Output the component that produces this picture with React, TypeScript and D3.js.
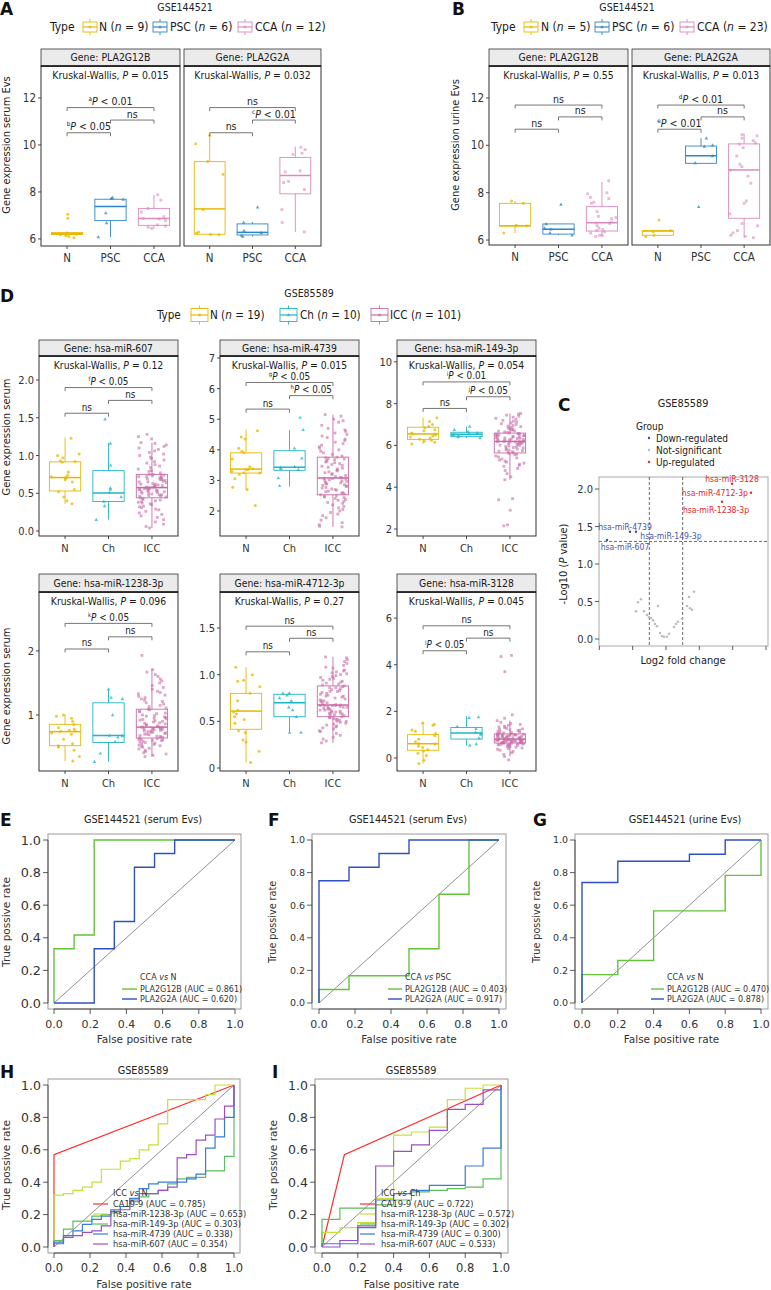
import React from "react";
import * as d3 from "d3";

const FN = "'DejaVu Sans Condensed', 'Liberation Sans', sans-serif";
const FW = "'DejaVu Sans', 'Liberation Sans', sans-serif";

// ---------------- DATA ----------------
const groupsSerum = ["N", "PSC", "CCA"];
const groupsMiR = ["N", "Ch", "ICC"];
const nA = [9, 6, 12];
const nB = [5, 6, 23];
const nD = [19, 10, 101];
const genesA = ["PLA2G12B", "PLA2G2A"];
const kwA = ["0.015", "0.032"];
const kwB = ["0.55", "0.013"];
const genesD = ["hsa-miR-607", "hsa-miR-4739", "hsa-miR-149-3p", "hsa-miR-1238-3p", "hsa-miR-4712-3p", "hsa-miR-3128"];
const kwD = ["0.12", "0.015", "0.054", "0.096", "0.27", "0.045"];
const ticksAB = [6, 8, 10, 12];
const ticksD = [[0, 0.5, 1, 1.5, 2], [2, 3, 4, 5, 6, 7], [2, 4, 6, 8, 10], [1, 2], [0, 0.5, 1, 1.5], [0, 2, 4, 6]];
const tickLabD = [["0.0", "0.5", "1.0", "1.5", "2.0"], ["2", "3", "4", "5", "6", "7"], ["2", "4", "6", "8", "10"], ["1", "2"], ["0", "0.5", "1.0", "1.5"], ["0", "2", "4", "6"]];

// box stats: [lower whisker, q1, median, q3, upper whisker]
const A1_N = [6.05, 6.1, 6.15, 6.18, 6.2, 6.22, 6.25, 6.88, 7.05];
const A1_PSC = [6.08, 6.68, 7.1, 7.68, 7.72, 7.75];
const A1_CCA = [6.45, 6.5, 6.55, 6.6, 6.78, 6.85, 6.88, 6.95, 7.15, 7.3, 7.65, 7.88];
const A1_box = [[6.1, 6.19, 6.22, 6.27, 6.3], [6.08, 6.78, 7.38, 7.69, 7.75], [6.42, 6.58, 6.87, 7.3, 7.88]];
const A2_N = [6.18, 6.2, 6.25, 6.3, 7.25, 8.75, 9.3, 10.05, 10.4];
const A2_PSC = [6.1, 6.15, 6.25, 6.35, 6.7, 7.35];
const A2_CCA = [6.3, 6.7, 7.25, 8.1, 8.4, 8.45, 8.85, 8.9, 9.6, 9.65, 9.8, 9.9];
const A2_box = [[6.18, 6.2, 7.28, 9.29, 10.35], [6.1, 6.17, 6.28, 6.64, 6.72], [6.3, 7.92, 8.7, 9.47, 9.93]];
const B1_N = [6.3, 6.6, 6.62, 7.55, 7.65];
const B1_PSC = [6.2, 6.3, 6.45, 6.5, 6.68, 7.5];
const B1_CCA = [6.15, 6.2, 6.2, 6.3, 6.35, 6.4, 6.45, 6.5, 6.6, 6.7, 6.72, 6.75, 6.9, 6.95, 7.0, 7.2, 7.55, 7.6, 7.75, 7.8, 7.95, 8.0, 8.5];
const B1_box = [[6.3, 6.6, 6.6, 7.55, 7.65], [6.2, 6.25, 6.45, 6.68, 6.68], [6.15, 6.38, 6.73, 7.41, 8.46]];
const B2_N = [6.15, 6.2, 6.35, 6.4, 6.85];
const B2_PSC = [7.4, 9.25, 9.55, 9.95, 10.0, 10.3];
const B2_CCA = [6.1, 6.15, 6.2, 6.3, 6.4, 6.6, 6.7, 7.1, 7.55, 7.65, 8.4, 8.7, 8.95, 9.1, 9.2, 9.55, 9.9, 10.05, 10.1, 10.2, 10.3, 10.4, 10.45];
const B2_box = [[6.15, 6.2, 6.38, 6.39, 6.4], [9.24, 9.24, 9.56, 9.97, 10.3], [6.1, 6.92, 8.96, 10.06, 10.5]];

const D1_N = [0.36, 0.4, 0.45, 0.52, 0.55, 0.65, 0.68, 0.7, 0.71, 0.72, 0.74, 0.78, 0.91, 0.92, 0.93, 0.97, 1.0, 1.02, 1.23];
const D1_Ch = [0.15, 0.33, 0.39, 0.45, 0.51, 0.55, 0.57, 0.87, 1.16, 1.48];
const D1_ICC = [0.04, 0.06, 0.09, 0.12, 0.15, 0.18, 0.2, 0.22, 0.24, 0.26, 0.28, 0.29, 0.31, 0.32, 0.33, 0.35, 0.36, 0.37, 0.38, 0.39, 0.4, 0.41, 0.42, 0.43, 0.44,
  0.45, 0.46, 0.46, 0.47, 0.48, 0.48, 0.49, 0.5, 0.5, 0.51, 0.52, 0.52, 0.53, 0.53, 0.54, 0.54, 0.55, 0.55, 0.56, 0.56, 0.57, 0.57, 0.57, 0.58, 0.58, 0.58,
  0.59, 0.6, 0.6, 0.61, 0.62, 0.62, 0.63, 0.64, 0.65, 0.65, 0.66, 0.67, 0.68, 0.68, 0.69, 0.7, 0.7, 0.71, 0.72, 0.72, 0.73, 0.74, 0.74, 0.75, 0.75,
  0.77, 0.79, 0.8, 0.82, 0.84, 0.86, 0.88, 0.9, 0.92, 0.94, 0.96, 0.98, 1.0, 1.02, 1.04, 1.06, 1.08, 1.1, 1.12, 1.14, 1.16, 1.17, 1.22, 1.25, 1.28];
const D1_box = [[0.36, 0.53, 0.708, 0.916, 1.24], [0.15, 0.39, 0.505, 0.8, 1.17], [0.04, 0.44, 0.575, 0.75, 1.17]];
const D2_N = [2.18, 2.7, 2.78, 3.05, 3.2, 3.24, 3.25, 3.3, 3.35, 3.36, 3.38, 3.45, 3.7, 3.9, 3.95, 4.05, 4.35, 4.42, 4.62];
const D2_Ch = [2.82, 3.08, 3.35, 3.38, 3.42, 3.45, 3.72, 4.05, 4.65, 5.05];
const D2_ICC = [1.48, 1.5, 1.55, 1.62, 1.7, 1.78, 1.85, 1.9, 1.95, 2.0, 2.05, 2.1, 2.15, 2.2, 2.25, 2.28, 2.32, 2.35, 2.38, 2.41, 2.44, 2.46, 2.48, 2.5, 2.53,
  2.56, 2.58, 2.6, 2.63, 2.65, 2.68, 2.7, 2.72, 2.75, 2.77, 2.8, 2.82, 2.84, 2.86, 2.88, 2.9, 2.92, 2.94, 2.96, 2.98, 3.0, 3.02, 3.04, 3.06, 3.07, 3.08,
  3.1, 3.13, 3.16, 3.19, 3.22, 3.25, 3.28, 3.31, 3.34, 3.37, 3.4, 3.43, 3.46, 3.49, 3.52, 3.55, 3.58, 3.6, 3.63, 3.65, 3.68, 3.7, 3.72, 3.74, 3.76,
  3.8, 3.85, 3.9, 3.95, 4.0, 4.05, 4.1, 4.15, 4.2, 4.25, 4.3, 4.35, 4.4, 4.45, 4.5, 4.55, 4.6, 4.65, 4.7, 4.8, 4.9, 4.95, 5.0, 5.1, 5.15];
const D2_box = [[2.7, 3.24, 3.37, 3.9, 4.66], [2.8, 3.33, 3.43, 3.97, 4.64], [1.48, 2.53, 3.08, 3.76, 5.15]];
const D3_N = [6.07, 6.15, 6.2, 6.25, 6.3, 6.35, 6.4, 6.45, 6.5, 6.55, 6.55, 6.6, 6.7, 6.75, 6.85, 6.9, 7.0, 7.15, 7.33];
const D3_Ch = [6.35, 6.4, 6.45, 6.5, 6.52, 6.55, 6.6, 6.65, 6.75, 6.9];
const D3_ICC = [2.15, 2.2, 2.9, 3.4, 3.45, 4.36, 4.5, 4.65, 4.8, 4.9, 5.0, 5.05, 5.1, 5.15, 5.2, 5.25, 5.3, 5.35, 5.4, 5.45, 5.5, 5.55, 5.58, 5.61, 5.64,
  5.67, 5.7, 5.72, 5.75, 5.78, 5.8, 5.83, 5.85, 5.88, 5.9, 5.92, 5.95, 5.97, 6.0, 6.02, 6.04, 6.06, 6.08, 6.1, 6.12, 6.14, 6.15, 6.16, 6.17, 6.18, 6.19,
  6.2, 6.22, 6.24, 6.25, 6.27, 6.28, 6.3, 6.32, 6.33, 6.35, 6.36, 6.38, 6.4, 6.41, 6.43, 6.44, 6.46, 6.48, 6.49, 6.51, 6.53, 6.54, 6.56, 6.57, 6.59,
  6.62, 6.65, 6.68, 6.7, 6.73, 6.76, 6.8, 6.83, 6.86, 6.9, 6.93, 6.96, 7.0, 7.04, 7.08, 7.12, 7.16, 7.2, 7.25, 7.3, 7.35, 7.4, 7.45, 7.5, 7.53];
const D3_box = [[6.07, 6.29, 6.55, 6.87, 7.33], [6.35, 6.42, 6.53, 6.63, 6.9], [4.36, 5.64, 6.19, 6.59, 7.53]];
const D4_N = [0.28, 0.35, 0.45, 0.5, 0.52, 0.55, 0.62, 0.7, 0.72, 0.74, 0.75, 0.76, 0.78, 0.8, 0.85, 0.9, 0.95, 0.98, 1.0];
const D4_Ch = [0.27, 0.4, 0.58, 0.65, 0.67, 0.68, 1.0, 1.25, 1.27, 1.4];
const D4_ICC = [0.35, 0.37, 0.39, 0.41, 0.43, 0.45, 0.47, 0.48, 0.5, 0.51, 0.52, 0.53, 0.54, 0.55, 0.56, 0.57, 0.58, 0.59, 0.6, 0.6, 0.61, 0.62, 0.62, 0.63, 0.64,
  0.65, 0.66, 0.66, 0.67, 0.68, 0.69, 0.7, 0.7, 0.71, 0.72, 0.73, 0.73, 0.74, 0.75, 0.75, 0.76, 0.77, 0.77, 0.78, 0.78, 0.79, 0.79, 0.8, 0.8, 0.81, 0.81,
  0.82, 0.83, 0.84, 0.85, 0.86, 0.87, 0.88, 0.89, 0.9, 0.91, 0.92, 0.93, 0.94, 0.95, 0.96, 0.97, 0.98, 0.99, 1.0, 1.02, 1.03, 1.05, 1.06, 1.08, 1.09,
  1.11, 1.13, 1.15, 1.17, 1.19, 1.21, 1.23, 1.25, 1.27, 1.29, 1.31, 1.33, 1.35, 1.37, 1.4, 1.43, 1.46, 1.5, 1.53, 1.56, 1.6, 1.63, 1.67, 1.71, 1.93];
const D4_box = [[0.28, 0.52, 0.74, 0.854, 1.01], [0.27, 0.57, 0.68, 1.19, 1.4], [0.35, 0.64, 0.81, 1.09, 1.71]];
const D5_N = [0.06, 0.18, 0.28, 0.3, 0.38, 0.4, 0.48, 0.52, 0.55, 0.58, 0.6, 0.62, 0.72, 0.8, 0.87, 0.93, 0.94, 1.0, 1.08];
const D5_Ch = [0.38, 0.38, 0.55, 0.62, 0.65, 0.72, 0.75, 0.78, 0.8, 0.8];
const D5_ICC = [0.27, 0.29, 0.31, 0.33, 0.35, 0.37, 0.39, 0.4, 0.42, 0.43, 0.44, 0.45, 0.46, 0.47, 0.48, 0.49, 0.5, 0.5, 0.51, 0.52, 0.52, 0.53, 0.54, 0.54, 0.55,
  0.56, 0.56, 0.57, 0.58, 0.58, 0.59, 0.59, 0.6, 0.6, 0.61, 0.61, 0.62, 0.62, 0.63, 0.63, 0.64, 0.64, 0.65, 0.65, 0.66, 0.66, 0.67, 0.67, 0.67, 0.67, 0.675,
  0.68, 0.69, 0.7, 0.71, 0.72, 0.72, 0.73, 0.74, 0.75, 0.76, 0.77, 0.77, 0.78, 0.79, 0.8, 0.81, 0.82, 0.82, 0.83, 0.84, 0.85, 0.86, 0.86, 0.87, 0.88,
  0.89, 0.9, 0.91, 0.92, 0.93, 0.94, 0.95, 0.96, 0.97, 0.98, 0.99, 1.0, 1.01, 1.02, 1.03, 1.04, 1.05, 1.07, 1.08, 1.1, 1.12, 1.14, 1.16, 1.18, 1.19];
const D5_box = [[0.06, 0.415, 0.61, 0.8, 1.08], [0.38, 0.55, 0.7, 0.79, 0.8], [0.27, 0.55, 0.675, 0.88, 1.19]];
const D6_N = [-0.24, -0.1, 0.1, 0.2, 0.3, 0.35, 0.45, 0.5, 0.6, 0.62, 0.7, 0.8, 0.95, 1.05, 1.15, 1.2, 1.4, 1.45, 1.5];
const D6_Ch = [0.53, 0.6, 0.85, 1.0, 1.05, 1.1, 1.25, 1.35, 1.72, 1.75];
const D6_ICC = [-0.08, 0.06, 0.15, 0.22, 0.28, 0.33, 0.37, 0.4, 0.43, 0.46, 0.48, 0.5, 0.52, 0.54, 0.55, 0.56, 0.57, 0.58, 0.59, 0.6, 0.61, 0.62, 0.63, 0.63, 0.64,
  0.65, 0.66, 0.67, 0.67, 0.68, 0.69, 0.7, 0.7, 0.71, 0.72, 0.72, 0.73, 0.74, 0.74, 0.75, 0.76, 0.76, 0.77, 0.77, 0.78, 0.78, 0.79, 0.79, 0.8, 0.8, 0.81,
  0.82, 0.83, 0.84, 0.85, 0.86, 0.87, 0.88, 0.89, 0.9, 0.91, 0.92, 0.93, 0.94, 0.95, 0.96, 0.97, 0.98, 0.99, 0.99, 1.0, 1.0, 1.01, 1.02, 1.02, 1.03,
  1.05, 1.07, 1.09, 1.11, 1.13, 1.15, 1.17, 1.19, 1.21, 1.23, 1.25, 1.27, 1.3, 1.33, 1.36, 1.4, 1.44, 1.48, 1.53, 1.6, 1.7, 1.85, 3.7, 4.35, 4.4];
const D6_box = [[-0.24, 0.33, 0.61, 1.0, 1.53], [0.53, 0.81, 1.07, 1.31, 1.79], [0.06, 0.64, 0.81, 1.03, 1.6]];

// significance brackets: [from, to, superscript, text, y]
type Br = [number, number, string, string, number];
const A1_br: Br[] = [[0, 2, "a", " < 0.01", 11.59], [1, 2, "", "ns", 11.06], [0, 1, "b", " < 0.05", 10.52]];
const A2_br: Br[] = [[0, 2, "", "ns", 11.59], [1, 2, "c", " < 0.01", 11.06], [0, 1, "", "ns", 10.52]];
const B1_br: Br[] = [[0, 2, "", "ns", 11.7], [1, 2, "", "ns", 11.2], [0, 1, "", "ns", 10.68]];
const B2_br: Br[] = [[0, 2, "d", " < 0.01", 11.7], [1, 2, "", "ns", 11.2], [0, 1, "e", " < 0.01", 10.68]];
const D1_br: Br[] = [[0, 2, "f", " < 0.05", 1.9], [1, 2, "", "ns", 1.73], [0, 1, "", "ns", 1.56]];
const D2_br: Br[] = [[0, 2, "g", " < 0.05", 6.2], [1, 2, "h", " < 0.05", 5.77], [0, 1, "", "ns", 5.33]];
const D3_br: Br[] = [[0, 2, "i", " < 0.01", 9.04], [1, 2, "j", " < 0.05", 8.33], [0, 1, "", "ns", 7.77]];
const D4_br: Br[] = [[0, 2, "k", " < 0.05", 2.43], [1, 2, "", "ns", 2.22], [0, 1, "", "ns", 2.03]];
const D5_br: Br[] = [[0, 2, "", "ns", 1.52], [1, 2, "", "ns", 1.39], [0, 1, "", "ns", 1.245]];
const D6_br: Br[] = [[0, 2, "", "ns", 5.67], [1, 2, "", "ns", 5.14], [0, 1, "l", " < 0.05", 4.6]];

// volcano (C)
const volDown: [number, number, string][] = [[-1.77, 1.32, "hsa-miR-607"], [-1.08, 1.43, "hsa-miR-4739"], [-0.9, 1.43, "hsa-miR-149-3p"]];
const volUp: [number, number, string][] = [[1.98, 2.07, "hsa-miR-3128"], [2.55, 1.95, "hsa-miR-4712-3p"], [1.68, 1.83, "hsa-miR-1238-3p"]];
const volNS: [number, number][] = [[-0.9, 0.37], [-0.84, 0.49], [-0.75, 0.53], [-0.66, 0.37], [-0.57, 0.32], [-0.51, 0.29], [-0.45, 0.28], [-0.39, 0.25],
  [-0.33, 0.2], [-0.27, 0.17], [-0.24, 0.44], [-0.18, 0.08], [-0.12, 0.04], [-0.06, 0.03], [0.03, 0.03], [0.09, 0.07], [0.24, 0.16], [0.3, 0.2],
  [0.36, 0.23], [0.48, 0.27], [0.63, 0.44], [0.69, 0.56], [0.72, 0.41], [0.78, 0.39], [0.84, 0.63]];
const volYTicks = [0, 0.5, 1, 1.5, 2];
const volXTicks = [-2, -1, 0, 1, 2, 3];

// ROC curves: TPR level on each FPR step
const E_12B = [0.333, 0.417, 1, 1, 1, 1, 1, 1, 1];
const E_2A = [0, 0, 0.333, 0.5, 0.833, 0.917, 1, 1, 1];
const F_12B = [0.083, 0.167, 0.167, 0.333, 0.667, 1];
const F_2A = [0.75, 0.833, 0.917, 1, 1, 1];
const G_12B = [0.174, 0.261, 0.565, 0.565, 0.783];
const G_2A = [0.739, 0.87, 0.87, 0.913, 1];
const H_CA199: [number, number][] = [[0, 0], [0, 0.57], [1, 1]];
const H_1238 = [0.32, 0.33, 0.35, 0.37, 0.4, 0.48, 0.48, 0.53, 0.545, 0.6, 0.63, 0.76, 0.91, 0.91, 0.91, 0.91, 0.94, 1, 1];
const H_149 = [0.04, 0.11, 0.16, 0.16, 0.19, 0.2, 0.21, 0.25, 0.28, 0.31, 0.33, 0.35, 0.39, 0.42, 0.43, 0.43, 0.47, 0.47, 0.56];
const H_4739 = [0.03, 0.07, 0.1, 0.14, 0.17, 0.19, 0.23, 0.25, 0.3, 0.36, 0.39, 0.4, 0.4, 0.4, 0.42, 0.45, 0.61, 0.68, 0.8];
const H_607 = [0.02, 0.06, 0.07, 0.09, 0.1, 0.13, 0.22, 0.23, 0.29, 0.33, 0.33, 0.35, 0.37, 0.55, 0.57, 0.66, 0.69, 0.79, 0.87];
const I_CA199: [number, number][] = [[0, 0], [0.125, 0.57], [1, 1]];
const I_1238 = [0.09, 0.12, 0.15, 0.3, 0.69, 0.71, 0.74, 0.91, 0.98, 1];
const I_149 = [0.17, 0.24, 0.24, 0.26, 0.29, 0.34, 0.35, 0.36, 0.37, 0.42];
const I_4739 = [0.02, 0.02, 0.12, 0.29, 0.33, 0.35, 0.38, 0.38, 0.5, 0.61];
const I_607 = [0, 0.04, 0.13, 0.5, 0.59, 0.63, 0.72, 0.85, 0.88, 0.97];
const legE = ["PLA2G12B (AUC = 0.861)", "PLA2G2A (AUC = 0.620)"];
const legF = ["PLA2G12B (AUC = 0.403)", "PLA2G2A (AUC = 0.917)"];
const legG = ["PLA2G12B (AUC = 0.470)", "PLA2G2A (AUC = 0.878)"];
const legH = ["CA19-9 (AUC = 0.785)", "hsa-miR-1238-3p (AUC = 0.653)", "hsa-miR-149-3p (AUC = 0.303)", "hsa-miR-4739 (AUC = 0.338)", "hsa-miR-607 (AUC = 0.354)"];
const legI = ["CA19-9 (AUC = 0.722)", "hsa-miR-1238-3p (AUC = 0.572)", "hsa-miR-149-3p (AUC = 0.302)", "hsa-miR-4739 (AUC = 0.300)", "hsa-miR-607 (AUC = 0.533)"];
const rocTicks = [0, 0.2, 0.4, 0.6, 0.8, 1];

// ---------------- STYLE ----------------
const COL: Record<string, string> = { N: "#E7B800", PSC: "#2E86C8", CCA: "#DA8ABE", Ch: "#1FB5C6", ICC: "#C96BA7" };
const SHAPE: Record<string, string> = { N: "c", PSC: "t", Ch: "t", CCA: "s", ICC: "s" };
const GREEN = "#66C23A", BLUE = "#2F50C0";
const HCOL = ["#FF2D2D", "#C8E03A", "#5CBF5C", "#3A7BD5", "#9C4FC4"];

function stepRoc(levels: number[]): [number, number][] {
  const n = levels.length;
  const pts: [number, number][] = [[0, 0]];
  levels.forEach((l, k) => { pts.push([k / n, l]); pts.push([(k + 1) / n, l]); });
  pts.push([1, 1]);
  return pts;
}

// deterministic horizontal jitter (layout only)
const jit = (i: number, s: number) => {
  const v = Math.sin((i + 1) * 12.9898 + s * 78.233) * 43758.5453;
  return v - Math.floor(v) - 0.5;
};

function Pt({ x, y, g, k }: { x: number; y: number; g: string; k: string }) {
  const c = COL[g];
  const sh = SHAPE[g];
  if (sh === "c") return <circle key={k} cx={x} cy={y} r={1.5} fill={c} opacity={0.75} />;
  if (sh === "t") return <path key={k} d={`M${x},${y - 2}L${x + 1.8},${y + 1.2}L${x - 1.8},${y + 1.2}Z`} fill={c} opacity={0.75} />;
  return <rect key={k} x={x - 1.4} y={y - 1.4} width={2.8} height={2.8} fill={c} opacity={0.6} />;
}

type FacetP = {
  x0: number; x1: number; st: number; sb: number; pb: number; dom: [number, number];
  ticks: number[]; tlab: string[]; yLab: boolean; gene: string; kw: string;
  groups: string[]; boxes: number[][]; pts: number[][]; br: Br[];
  sfs: number; tfs: number; bfs: number; seed: number;
};

function Facet(p: FacetP) {
  const x = d3.scalePoint<string>().domain(p.groups).range([p.x0, p.x1]).padding(0.6);
  const step = x.step();
  const y = d3.scaleLinear().domain(p.dom).range([p.pb, p.sb]);
  const bw = step * 0.72;
  const cx = (p.x0 + p.x1) / 2;
  return (
    <g>
      <rect x={p.x0} y={p.sb} width={p.x1 - p.x0} height={p.pb - p.sb} fill="#fff" stroke="#333" strokeWidth={1} />
      <rect x={p.x0} y={p.st} width={p.x1 - p.x0} height={p.sb - p.st} fill="#EBEBEB" stroke="#333" strokeWidth={0.8} />
      <line x1={p.x0} x2={p.x1} y1={p.sb} y2={p.sb} stroke="#111" strokeWidth={1.6} />
      <text x={cx} y={(p.st + p.sb) / 2 + 3.6} textAnchor="middle" fontSize={p.sfs} fill="#1a1a1a">Gene: {p.gene}</text>
      <text x={cx} y={p.sb + 13} textAnchor="middle" fontSize={p.sfs} fill="#1a1a1a">
        Kruskal-Wallis, <tspan fontStyle="italic">P</tspan> = {p.kw}
      </text>
      {p.yLab && p.ticks.map((t, i) => (
        <g key={"yt" + i}>
          <line x1={p.x0 - 3} x2={p.x0} y1={y(t)} y2={y(t)} stroke="#333" strokeWidth={0.9} />
          <text x={p.x0 - 5} y={y(t) + 4} textAnchor="end" fontSize={p.tfs} fill="#333">{p.tlab[i]}</text>
        </g>
      ))}
      {p.groups.map((g) => (
        <g key={"xt" + g}>
          <line x1={x(g)!} x2={x(g)!} y1={p.pb} y2={p.pb + 3} stroke="#333" strokeWidth={0.9} />
          <text x={x(g)!} y={p.pb + 16} textAnchor="middle" fontSize={p.tfs} fill="#333">{g}</text>
        </g>
      ))}
      {p.groups.map((g, gi) => {
        const b = p.boxes[gi];
        const xc = x(g)!;
        return (
          <g key={"bx" + g} stroke={COL[g]} fill="none">
            <line x1={xc} x2={xc} y1={y(b[0])} y2={y(b[1])} strokeWidth={0.9} />
            <line x1={xc} x2={xc} y1={y(b[3])} y2={y(b[4])} strokeWidth={0.9} />
            <rect x={xc - bw / 2} y={y(b[3])} width={bw} height={Math.max(0.5, y(b[1]) - y(b[3]))} strokeWidth={0.9} />
            <line x1={xc - bw / 2} x2={xc + bw / 2} y1={y(b[2])} y2={y(b[2])} strokeWidth={1.5} />
          </g>
        );
      })}
      {p.groups.map((g, gi) => p.pts[gi].map((v, i) => (
        <Pt key={g + i} k={g + i} x={x(g)! + jit(i, p.seed + gi) * step * 0.66} y={y(v)} g={g} />
      )))}
      {p.br.map((b, i) => {
        const xa = x(p.groups[b[0]])!, xb = x(p.groups[b[1]])!;
        const yy = y(b[4]);
        return (
          <g key={"br" + i}>
            <path d={`M${xa},${yy + 3.5}V${yy}H${xb}V${yy + 3.5}`} fill="none" stroke="#666" strokeWidth={0.9} />
            <text x={(xa + xb) / 2} y={yy - 2.5} textAnchor="middle" fontSize={p.bfs} fill="#222">
              {b[2] ? (
                <>
                  <tspan fontSize={p.bfs * 0.6} dy={-p.bfs * 0.38}>{b[2]}</tspan>
                  <tspan fontStyle="italic" dy={p.bfs * 0.38}>P</tspan>
                  <tspan>{b[3]}</tspan>
                </>
              ) : b[3]}
            </text>
          </g>
        );
      })}
    </g>
  );
}

function LegendKey({ x, y, w, h, g }: { x: number; y: number; w: number; h: number; g: string }) {
  const c = COL[g];
  const xc = x + w / 2;
  return (
    <g>
      <line x1={xc} x2={xc} y1={y - h / 2 - 3} y2={y + h / 2 + 3} stroke={c} strokeWidth={0.9} />
      <rect x={x} y={y - h / 2} width={w} height={h} fill="#fff" stroke={c} strokeWidth={0.9} />
      <line x1={x} x2={x + w} y1={y} y2={y} stroke={c} strokeWidth={1.2} />
      <Pt x={xc} y={y} g={g} k={"lk" + g} />
    </g>
  );
}

function TypeLegend({ tx, y, keys, texts, groups, ns, w, h, fs }: { tx: number; y: number; keys: number[]; texts: number[]; groups: string[]; ns: number[]; w: number; h: number; fs: number }) {
  return (
    <g fontSize={fs} fill="#1a1a1a">
      <text x={tx} y={y + 4}>Type</text>
      {groups.map((g, i) => (
        <g key={g}>
          <LegendKey x={keys[i]} y={y} w={w} h={h} g={g} />
          <text x={texts[i]} y={y + 4}>{g} (<tspan fontStyle="italic">n</tspan> = {ns[i]})</text>
        </g>
      ))}
    </g>
  );
}

type RocP = {
  bx: [number, number]; by: [number, number]; xr: [number, number]; yr: [number, number];
  letter: string; lx: number; ly: number; title: string; tx: number; ty: number;
  curves: { pts: [number, number][]; col: string }[];
  legTitle: [string, string]; legLine: [number, number]; legText: number; legTitleY: number; legRows: number[]; legLabels: string[];
  ytf: number; ylf: number; ylx: number; yly: number; xtb: number; xlb: number; xtf: number; lw: number; lfs: number;
};

function Roc(p: RocP) {
  const x = d3.scaleLinear().domain([0, 1]).range(p.xr);
  const y = d3.scaleLinear().domain([0, 1]).range(p.yr);
  const line = d3.line<[number, number]>().x((d) => x(d[0])).y((d) => y(d[1]));
  return (
    <g fontFamily={FN}>
      <text x={p.lx} y={p.ly} fontSize={17} fontWeight="bold" fontFamily={FW} fill="#111">{p.letter}</text>
      <text x={p.tx} y={p.ty} textAnchor="middle" fontSize={10.8} fill="#222">{p.title}</text>
      <rect x={p.bx[0]} y={p.by[0]} width={p.bx[1] - p.bx[0]} height={p.by[1] - p.by[0]} fill="#fff" stroke="#999" strokeWidth={1} />
      <line x1={x(0)} y1={y(0)} x2={x(1)} y2={y(1)} stroke="#444" strokeWidth={0.6} />
      {p.curves.map((c, i) => (
        <path key={i} d={line(c.pts)!} fill="none" stroke={c.col} strokeWidth={p.lw} />
      ))}
      <line x1={p.bx[0]} x2={p.bx[0]} y1={y(0)} y2={y(1)} stroke="#333" strokeWidth={0.8} />
      {rocTicks.map((t) => (
        <g key={"y" + t}>
          <line x1={p.bx[0] - 5} x2={p.bx[0]} y1={y(t)} y2={y(t)} stroke="#333" strokeWidth={0.8} />
          <text x={p.bx[0] - 7} y={y(t) + p.ytf * 0.36} textAnchor="end" fontSize={p.ytf} fontFamily={FW} fill="#333">{t.toFixed(1)}</text>
        </g>
      ))}
      <line x1={x(0)} x2={x(1)} y1={p.by[1]} y2={p.by[1]} stroke="#333" strokeWidth={0.8} />
      {rocTicks.map((t) => (
        <g key={"x" + t}>
          <line x1={x(t)} x2={x(t)} y1={p.by[1]} y2={p.by[1] + 5} stroke="#333" strokeWidth={0.8} />
          <text x={x(t)} y={p.xtb} textAnchor="middle" fontSize={p.xtf} fontFamily={FW} fill="#333">{t.toFixed(1)}</text>
        </g>
      ))}
      <text x={(p.xr[0] + p.xr[1]) / 2} y={p.xlb} textAnchor="middle" fontSize={10.5} fontFamily={FW} fill="#333">False positive rate</text>
      <text transform={`translate(${p.ylx},${p.yly}) rotate(-90)`} textAnchor="middle" fontSize={p.ylf} fontFamily={FW} fill="#333">True possive rate</text>
      <text x={p.legText} y={p.legTitleY} fontSize={p.lfs} fill="#333">{p.legTitle[0]} <tspan fontStyle="italic">vs</tspan> {p.legTitle[1]}</text>
      {p.legLabels.map((l, i) => (
        <g key={"lg" + i}>
          <line x1={p.legLine[0]} x2={p.legLine[1]} y1={p.legRows[i]} y2={p.legRows[i]} stroke={p.curves[i].col} strokeWidth={p.lw} />
          <text x={p.legText} y={p.legRows[i] + p.lfs * 0.36} fontSize={p.lfs} fill="#333">{l}</text>
        </g>
      ))}
    </g>
  );
}

function Volcano() {
  const x = d3.scaleLinear().domain([-2.01, 3.06]).range([599, 768]);
  const y = d3.scaleLinear().domain([-0.093, 2.16]).range([646, 477]);
  const red = "#E8262A", navy = "#3B4C9E", labBlue = "#4A58A8";
  const upOff: [number, number, string][] = [[0, -2, "middle"], [-3, 3, "end"], [-6, 11, "middle"]];
  const dnOff: [number, number, string][] = [[18, 10, "middle"], [-5, -2, "middle"], [35, 7, "middle"]];
  return (
    <g fontFamily={FN}>
      <text x={558} y={411} fontSize={17} fontWeight="bold" fontFamily={FW} fill="#111">C</text>
      <text x={683} y={407} textAnchor="middle" fontSize={10.8} fill="#222">GSE85589</text>
      <text x={636} y={430} fontSize={10} fill="#222">Group</text>
      {[["Down-regulated", navy], ["Not-significant", "#BDBDBD"], ["Up-regulated", red]].map((d, i) => (
        <g key={d[0]}>
          <circle cx={649} cy={438 + i * 12} r={1.2} fill={d[1]} />
          <text x={656} y={441.5 + i * 12} fontSize={10} fill="#222">{d[0]}</text>
        </g>
      ))}
      <rect x={599} y={477} width={169} height={169} fill="#fff" stroke="#AAA" strokeWidth={1} />
      <line x1={x(-0.5)} x2={x(-0.5)} y1={477} y2={646} stroke="#444" strokeWidth={0.8} strokeDasharray="3,2" />
      <line x1={x(0.5)} x2={x(0.5)} y1={477} y2={646} stroke="#444" strokeWidth={0.8} strokeDasharray="3,2" />
      <line x1={599} x2={768} y1={y(1.301)} y2={y(1.301)} stroke="#444" strokeWidth={0.8} strokeDasharray="3,2" />
      {volNS.map((d, i) => <circle key={"ns" + i} cx={x(d[0])} cy={y(d[1])} r={1.3} fill="#BDBDBD" />)}
      {volDown.map((d, i) => (
        <g key={"dn" + i}>
          <circle cx={x(d[0])} cy={y(d[1])} r={1.2} fill={navy} />
          <text x={x(d[0]) + dnOff[i][0]} y={y(d[1]) + dnOff[i][1]} textAnchor={dnOff[i][2] as any} fontSize={8.6} fill={labBlue}>{d[2]}</text>
        </g>
      ))}
      {volUp.map((d, i) => (
        <g key={"up" + i}>
          <circle cx={x(d[0])} cy={y(d[1])} r={1.2} fill={red} />
          <text x={x(d[0]) + upOff[i][0]} y={y(d[1]) + upOff[i][1]} textAnchor={upOff[i][2] as any} fontSize={8.6} fill={red}>{d[2]}</text>
        </g>
      ))}
      {volYTicks.map((t) => (
        <g key={"vy" + t}>
          <line x1={595} x2={599} y1={y(t)} y2={y(t)} stroke="#333" strokeWidth={0.8} />
          <text x={593} y={y(t) + 4} textAnchor="end" fontSize={11} fill="#333">{t.toFixed(1)}</text>
        </g>
      ))}
      {volXTicks.map((t) => (
        <line key={"vx" + t} x1={x(t)} x2={x(t)} y1={646} y2={650} stroke="#333" strokeWidth={0.8} />
      ))}
      <text x={683} y={664} textAnchor="middle" fontSize={11} fill="#222">Log2 fold change</text>
      <text transform="translate(567,564) rotate(-90)" textAnchor="middle" fontSize={11} fill="#222">-Log10 (<tspan fontStyle="italic">P</tspan> value)</text>
    </g>
  );
}

export default function App() {
  const A = { st: 49, sb: 66, pb: 246, dom: [5.7, 13.36] as [number, number] };
  const B = { st: 49, sb: 66, pb: 245, dom: [5.79, 13.35] as [number, number] };
  const common = { sfs: 10.4, tfs: 11.5, bfs: 10.5 };
  const dCommon = { sfs: 10.3, tfs: 11, bfs: 9.8 };
  const dTopX: [number, number][] = [[39, 178], [220, 359], [397, 536]];
  const dTop = { st: 340, sb: 356, pb: 536 };
  const dBot = { st: 574, sb: 592, pb: 771 };
  const dDoms: [number, number][] = [[-0.066, 2.318], [1.183, 7.065], [1.665, 10.28], [0.125, 2.92], [-0.032, 1.886], [-0.56, 7.12]];
  const dPts = [[D1_N, D1_Ch, D1_ICC], [D2_N, D2_Ch, D2_ICC], [D3_N, D3_Ch, D3_ICC], [D4_N, D4_Ch, D4_ICC], [D5_N, D5_Ch, D5_ICC], [D6_N, D6_Ch, D6_ICC]];
  const dBox = [D1_box, D2_box, D3_box, D4_box, D5_box, D6_box];
  const dBr = [D1_br, D2_br, D3_br, D4_br, D5_br, D6_br];
  const rocY = { by: [834, 1009] as [number, number], yr: [1003, 840] as [number, number] };
  const rocY2 = { by: [1079, 1253] as [number, number], yr: [1247, 1085] as [number, number] };
  const hRows = [1204, 1214, 1224, 1234, 1244];
  const hCurves = [H_CA199, stepRoc(H_1238), stepRoc(H_149), stepRoc(H_4739), stepRoc(H_607)].map((pts, i) => ({ pts, col: HCOL[i] }));
  const iCurves = [I_CA199, stepRoc(I_1238), stepRoc(I_149), stepRoc(I_4739), stepRoc(I_607)].map((pts, i) => ({ pts, col: HCOL[i] }));

  return (
    <div style={{ position: "absolute", left: 0, top: 0 }}>
      <svg width={771} height={1290} fontFamily={FN} style={{ display: "block", background: "#fff" }}>
        {/* Panel A */}
        <text x={0} y={15} fontSize={17} fontWeight="bold" fontFamily={FW} fill="#111">A</text>
        <text x={185} y={11} textAnchor="middle" fontSize={10.5} fill="#222">GSE144521</text>
        <TypeLegend tx={50} y={27} keys={[83, 153, 238]} texts={[99, 170, 255]} groups={groupsSerum} ns={nA} w={14} h={10} fs={12} />
        <Facet x0={41} x1={180} {...A} ticks={ticksAB} tlab={ticksAB.map(String)} yLab gene={genesA[0]} kw={kwA[0]} groups={groupsSerum} boxes={A1_box} pts={[A1_N, A1_PSC, A1_CCA]} br={A1_br} {...common} seed={1} />
        <Facet x0={184} x1={321} {...A} ticks={ticksAB} tlab={ticksAB.map(String)} yLab={false} gene={genesA[1]} kw={kwA[1]} groups={groupsSerum} boxes={A2_box} pts={[A2_N, A2_PSC, A2_CCA]} br={A2_br} {...common} seed={4} />
        <text transform="translate(10,145) rotate(-90)" textAnchor="middle" fontSize={11} fill="#222">Gene expression serum Evs</text>

        {/* Panel B */}
        <text x={452} y={15} fontSize={17} fontWeight="bold" fontFamily={FW} fill="#111">B</text>
        <text x={627} y={11} textAnchor="middle" fontSize={10.5} fill="#222">GSE144521</text>
        <TypeLegend tx={491} y={27} keys={[524, 595, 680]} texts={[541, 612, 697]} groups={groupsSerum} ns={nB} w={14} h={10} fs={12} />
        <Facet x0={489} x1={628} {...B} ticks={ticksAB} tlab={ticksAB.map(String)} yLab gene={genesA[0]} kw={kwB[0]} groups={groupsSerum} boxes={B1_box} pts={[B1_N, B1_PSC, B1_CCA]} br={B1_br} {...common} seed={7} />
        <Facet x0={632} x1={770} {...B} ticks={ticksAB} tlab={ticksAB.map(String)} yLab={false} gene={genesA[1]} kw={kwB[1]} groups={groupsSerum} boxes={B2_box} pts={[B2_N, B2_PSC, B2_CCA]} br={B2_br} {...common} seed={2} />
        <text transform="translate(459,145) rotate(-90)" textAnchor="middle" fontSize={11} fill="#222">Gene expression urine Evs</text>

        {/* Panel D */}
        <text x={0} y={302} fontSize={17} fontWeight="bold" fontFamily={FW} fill="#111">D</text>
        <text x={309} y={297} textAnchor="middle" fontSize={10.5} fill="#222">GSE85589</text>
        <TypeLegend tx={157} y={315} keys={[191, 280, 371]} texts={[210, 300, 390]} groups={groupsMiR} ns={nD} w={17} h={13} fs={11.6} />
        {genesD.map((g, i) => {
          const lay = i < 3 ? dTop : dBot;
          const xx = dTopX[i % 3];
          return (
            <Facet key={g} x0={xx[0]} x1={xx[1]} {...lay} dom={dDoms[i]} ticks={ticksD[i]} tlab={tickLabD[i]} yLab gene={g} kw={kwD[i]}
              groups={groupsMiR} boxes={dBox[i]} pts={dPts[i]} br={dBr[i]} {...dCommon} seed={i * 3 + 1} />
          );
        })}
        <text transform="translate(10,437) rotate(-90)" textAnchor="middle" fontSize={11} fill="#222">Gene expression serum</text>
        <text transform="translate(10,686) rotate(-90)" textAnchor="middle" fontSize={11} fill="#222">Gene expression serum</text>

        {/* Panel C */}
        <Volcano />

        {/* ROC panels */}
        <Roc bx={[48, 241]} {...rocY} xr={[54, 235]} letter="E" lx={0} ly={826} title="GSE144521 (serum Evs)" tx={143} ty={823}
          curves={[{ pts: stepRoc(E_12B), col: GREEN }, { pts: stepRoc(E_2A), col: BLUE }]}
          legTitle={["CCA", "N"]} legLine={[122, 137]} legText={140} legTitleY={980} legRows={[989, 999]} legLabels={legE}
          ytf={12.8} ylf={10.5} ylx={10} yly={922} xtb={1028} xlb={1043} xtf={11} lw={1.4} lfs={8.9} />
        <Roc bx={[312, 506]} {...rocY} xr={[319, 499]} letter="F" lx={268} ly={826} title="GSE144521 (serum Evs)" tx={408} ty={823}
          curves={[{ pts: stepRoc(F_12B), col: GREEN }, { pts: stepRoc(F_2A), col: BLUE }]}
          legTitle={["CCA", "PSC"]} legLine={[388, 402]} legText={405} legTitleY={980} legRows={[989, 999]} legLabels={legF}
          ytf={9.5} ylf={9.6} ylx={276} yly={922} xtb={1028} xlb={1043} xtf={11} lw={1.4} lfs={8.9} />
        <Roc bx={[575, 768]} {...rocY} xr={[582, 761]} letter="G" lx={533} ly={826} title="GSE144521 (urine Evs)" tx={685} ty={823}
          curves={[{ pts: stepRoc(G_12B), col: GREEN }, { pts: stepRoc(G_2A), col: BLUE }]}
          legTitle={["CCA", "N"]} legLine={[651, 664]} legText={667} legTitleY={980} legRows={[989, 999]} legLabels={legG}
          ytf={9.5} ylf={9.6} ylx={540} yly={922} xtb={1028} xlb={1043} xtf={11} lw={1.4} lfs={8.9} />
        <Roc bx={[48, 240]} {...rocY2} xr={[54, 234]} letter="H" lx={0} ly={1078} title="GSE85589" tx={143} ty={1074}
          curves={hCurves}
          legTitle={["ICC", "N"]} legLine={[93, 108]} legText={113} legTitleY={1196} legRows={hRows} legLabels={legH}
          ytf={12.5} ylf={10.5} ylx={10} yly={1165} xtb={1272} xlb={1288} xtf={11.5} lw={1.2} lfs={9.2} />
        <Roc bx={[315, 508]} {...rocY2} xr={[322, 501]} letter="I" lx={272} ly={1078} title="GSE85589" tx={411} ty={1074}
          curves={iCurves}
          legTitle={["ICC", "Ch"]} legLine={[360, 375]} legText={381} legTitleY={1196} legRows={hRows} legLabels={legI}
          ytf={12.5} ylf={10.5} ylx={277} yly={1165} xtb={1272} xlb={1288} xtf={11.5} lw={1.2} lfs={9.2} />
      </svg>
    </div>
  );
}
